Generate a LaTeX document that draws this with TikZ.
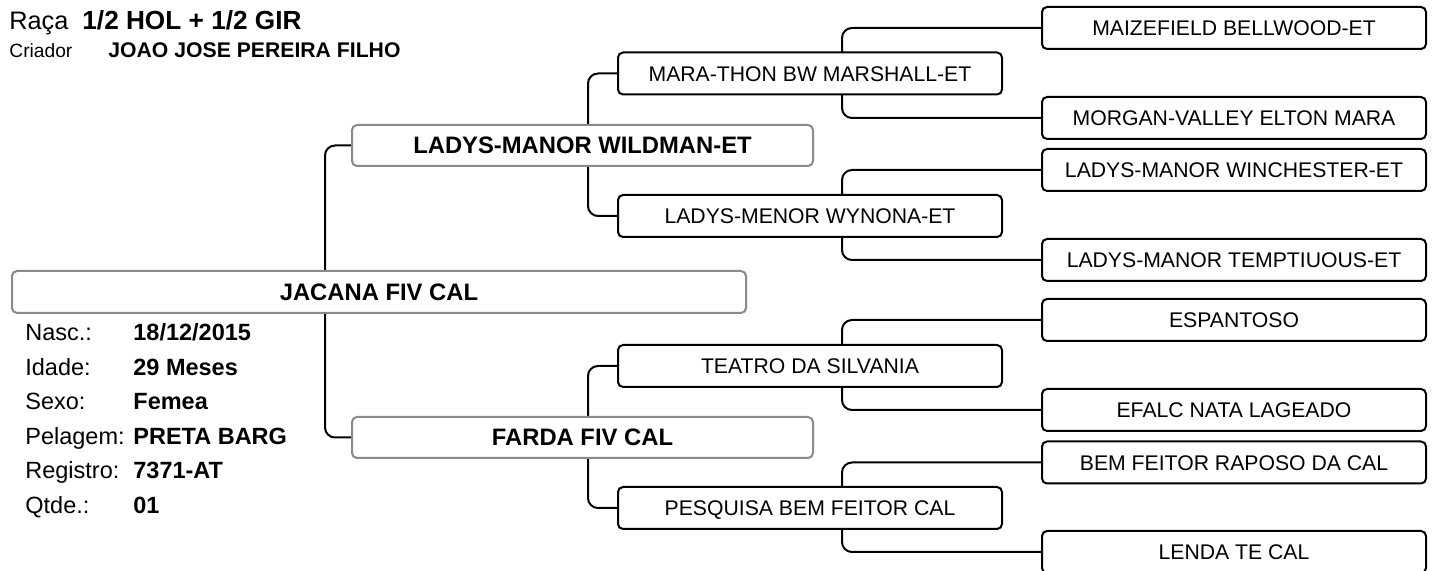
\documentclass[tikz,border=0pt]{standalone}
\usepackage{fontspec}
\setmainfont{Liberation Sans}
\usetikzlibrary{positioning, backgrounds}
\definecolor{colFrame}{HTML}{8A8A8A}
\newcommand{\fsName}{\fontsize{10.6}{12}\selectfont}
\newcommand{\fsMain}{\fontsize{11.9}{14}\selectfont}
\newcommand{\fsInfo}{\fontsize{11.75}{14}\selectfont}
\tikzset{
  % Pedigree boxes
  pedbox/.style={
    draw, line width=1pt, rounded corners=2.5pt, fill=white,
    inner sep=0pt, align=center, text depth=0pt,
  },
  animbox/.style={pedbox, draw=colFrame, minimum width=367pt,
    minimum height=21pt, font=\bfseries\fsMain, text height=8.5pt},
  parentbox/.style={pedbox, draw=colFrame, minimum width=230.5pt,
    minimum height=20.5pt, font=\bfseries\fsMain, text height=8.5pt},
  ancbox/.style={pedbox, minimum width=192pt,
    minimum height=21pt, font=\fsName, text height=7.6pt},
  % Brackets between generations
  link/.style={line width=1pt, rounded corners=5pt},
  % Plain text lines
  info/.style={anchor=base west, inner sep=0pt},
}

\begin{document}
\begin{tikzpicture}[x=0.5pt, y=-0.5pt]

\useasboundingbox (0,0) rectangle (1448,571);

%% HEADER
\node[info, font=\fontsize{12.65}{15}\selectfont] (lRaca) at (9,30) {Raça};
\node[info, font=\bfseries\fontsize{13.1}{15}\selectfont] (vRaca) at (82,30) {1/2 HOL + 1/2 GIR};
\node[info, font=\fontsize{9.6}{12}\selectfont] (lCriador) at (9,58) {Criador};
\node[info, font=\bfseries\fontsize{10.6}{12}\selectfont] (vCriador) at (108,58) {JOAO JOSE PEREIRA FILHO};

%% ANIMAL AND PARENTS
\node[animbox] (anim) at (379,292) {JACANA FIV CAL};
\node[parentbox] (sire) at (582.5,145.5) {LADYS-MANOR WILDMAN-ET};
\node[parentbox] (dam) at (582.5,437.5) {FARDA FIV CAL};

%% GRANDPARENTS
\node[ancbox] (ss) at (810,73.5) {MARA-THON BW MARSHALL-ET};
\node[ancbox] (sd) at (810,216) {LADYS-MENOR WYNONA-ET};
\node[ancbox] (ds) at (810,366) {TEATRO DA SILVANIA};
\node[ancbox] (dd) at (810,508) {PESQUISA BEM FEITOR CAL};

%% GREAT-GRANDPARENTS
\node[ancbox] (sss) at (1234,28) {MAIZEFIELD BELLWOOD-ET};
\node[ancbox] (ssd) at (1234,118) {MORGAN-VALLEY ELTON MARA};
\node[ancbox] (sds) at (1234,170) {LADYS-MANOR WINCHESTER-ET};
\node[ancbox] (sdd) at (1234,260) {LADYS-MANOR TEMPTIUOUS-ET};
\node[ancbox] (dss) at (1234,320) {ESPANTOSO};
\node[ancbox] (dsd) at (1234,410) {EFALC NATA LAGEADO};
\node[ancbox] (dds) at (1234,462.5) {BEM FEITOR RAPOSO DA CAL};
\node[ancbox] (ddd) at (1234,552) {LENDA TE CAL};

%% ANIMAL DATA
\node[info, font=\fsInfo] (lNasc) at (25,341) {Nasc.:};
\node[info, font=\bfseries\fsInfo] (vNasc) at (133,341) {18/12/2015};
\node[info, font=\fsInfo] (lIdade) at (25,375.5) {Idade:};
\node[info, font=\bfseries\fsInfo] (vIdade) at (133,375.5) {29 Meses};
\node[info, font=\fsInfo] (lSexo) at (25,410) {Sexo:};
\node[info, font=\bfseries\fsInfo] (vSexo) at (133,410) {Femea};
\node[info, font=\fsInfo] (lPelagem) at (25,444.5) {Pelagem:};
\node[info, font=\bfseries\fsInfo] (vPelagem) at (133,444.5) {PRETA BARG};
\node[info, font=\fsInfo] (lRegistro) at (25,479) {Registro:};
\node[info, font=\bfseries\fsInfo] (vRegistro) at (133,479) {7371-AT};
\node[info, font=\fsInfo] (lQtde) at (25,513.5) {Qtde.:};
\node[info, font=\bfseries\fsInfo] (vQtde) at (133,513.5) {01};

%% BRACKETS
\begin{scope}[on background layer]
  \draw[link] (sire.west) -- ++(-26,0) |- (dam.west);
  \draw[link] (ss.west) -- ++(-29,0) |- (sd.west);
  \draw[link] (ds.west) -- ++(-29,0) |- (dd.west);
  \draw[link] (sss.west) -- ++(-199,0) |- (ssd.west);
  \draw[link] (sds.west) -- ++(-199,0) |- (sdd.west);
  \draw[link] (dss.west) -- ++(-199,0) |- (dsd.west);
  \draw[link] (dds.west) -- ++(-199,0) |- (ddd.west);
\end{scope}

\end{tikzpicture}
\end{document}
